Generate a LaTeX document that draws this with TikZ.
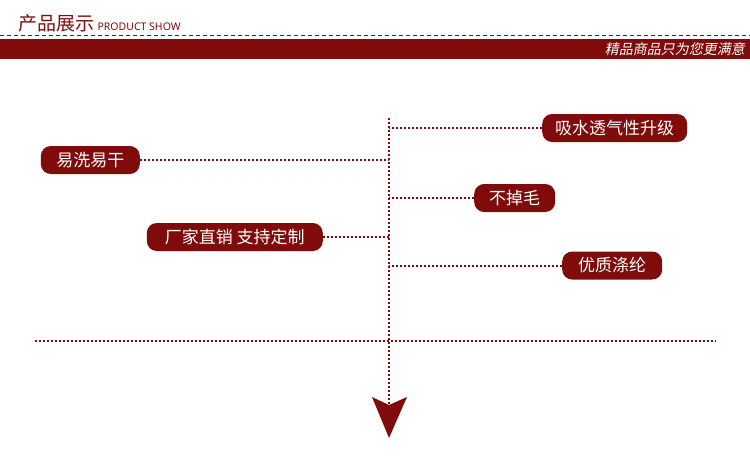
\documentclass[tikz,border=0pt]{standalone}
\usepackage{fontspec}
\setmainfont{Noto Sans}
\newfontfamily\cjk{Noto Sans CJK SC}
\newfontfamily\cjkslant[FakeSlant=0.2]{Noto Sans CJK SC}
\definecolor{darkred}{HTML}{7F0B0B}

\begin{document}
\begin{tikzpicture}[x=1pt,y=-1pt,
  pill/.style={fill=darkred,text=white,rounded corners=10pt,minimum height=28pt,
    inner xsep=10pt,inner ysep=0pt,font=\cjk\fontsize{17}{17}\selectfont},
  dotline/.style={darkred,line width=2pt,dash pattern=on 2pt off 2pt}]
\useasboundingbox (0,0) rectangle (750,466);
% header
\node[anchor=base west,inner sep=0pt,text=darkred,font=\cjk\fontsize{19}{19}\selectfont] (title) at (18,30) {产品展示};
\node[anchor=base west,inner sep=0pt,text=darkred,font=\fontsize{10.5}{10.5}\selectfont] (sub) at ([xshift=3pt]title.base east) {PRODUCT SHOW};
\draw[darkred,line width=1pt,dash pattern=on 4pt off 3pt](0,35)--(750,35);
\fill[darkred](0,39)rectangle(750,58.5);
\node[anchor=east,inner sep=0pt,text=white,font=\cjkslant\fontsize{14}{14}\selectfont] (motto) at (745,49) {精品商品只为您更满意};
% spine and arrow
\coordinate (top) at (389,118);
\coordinate (bot) at (389,405);
\draw[dotline](top)--(bot);
\fill[darkred](372,397)--(389,438)--(407,397)--(bot)--cycle;
\coordinate (lineL) at (35,341);
\coordinate (lineR) at (716,341);
\draw[dotline](lineL)--(lineR);
% feature pills
\foreach \name/\x/\y/\w/\side/\txt in {water/542/128/145/west/吸水透气性升级, wash/140/160/99/east/易洗易干,
    fluff/474/198/81/west/不掉毛, direct/323/237/176/east/厂家直销 支持定制, poly/562/265.5/100/west/优质涤纶}{
  \node[pill,minimum width=\w pt,anchor=\side] (\name) at (\x,\y) {\txt};
  \draw[dotline] (\name.\side) -- (\name.\side -| top);}
\end{tikzpicture}
\end{document}
